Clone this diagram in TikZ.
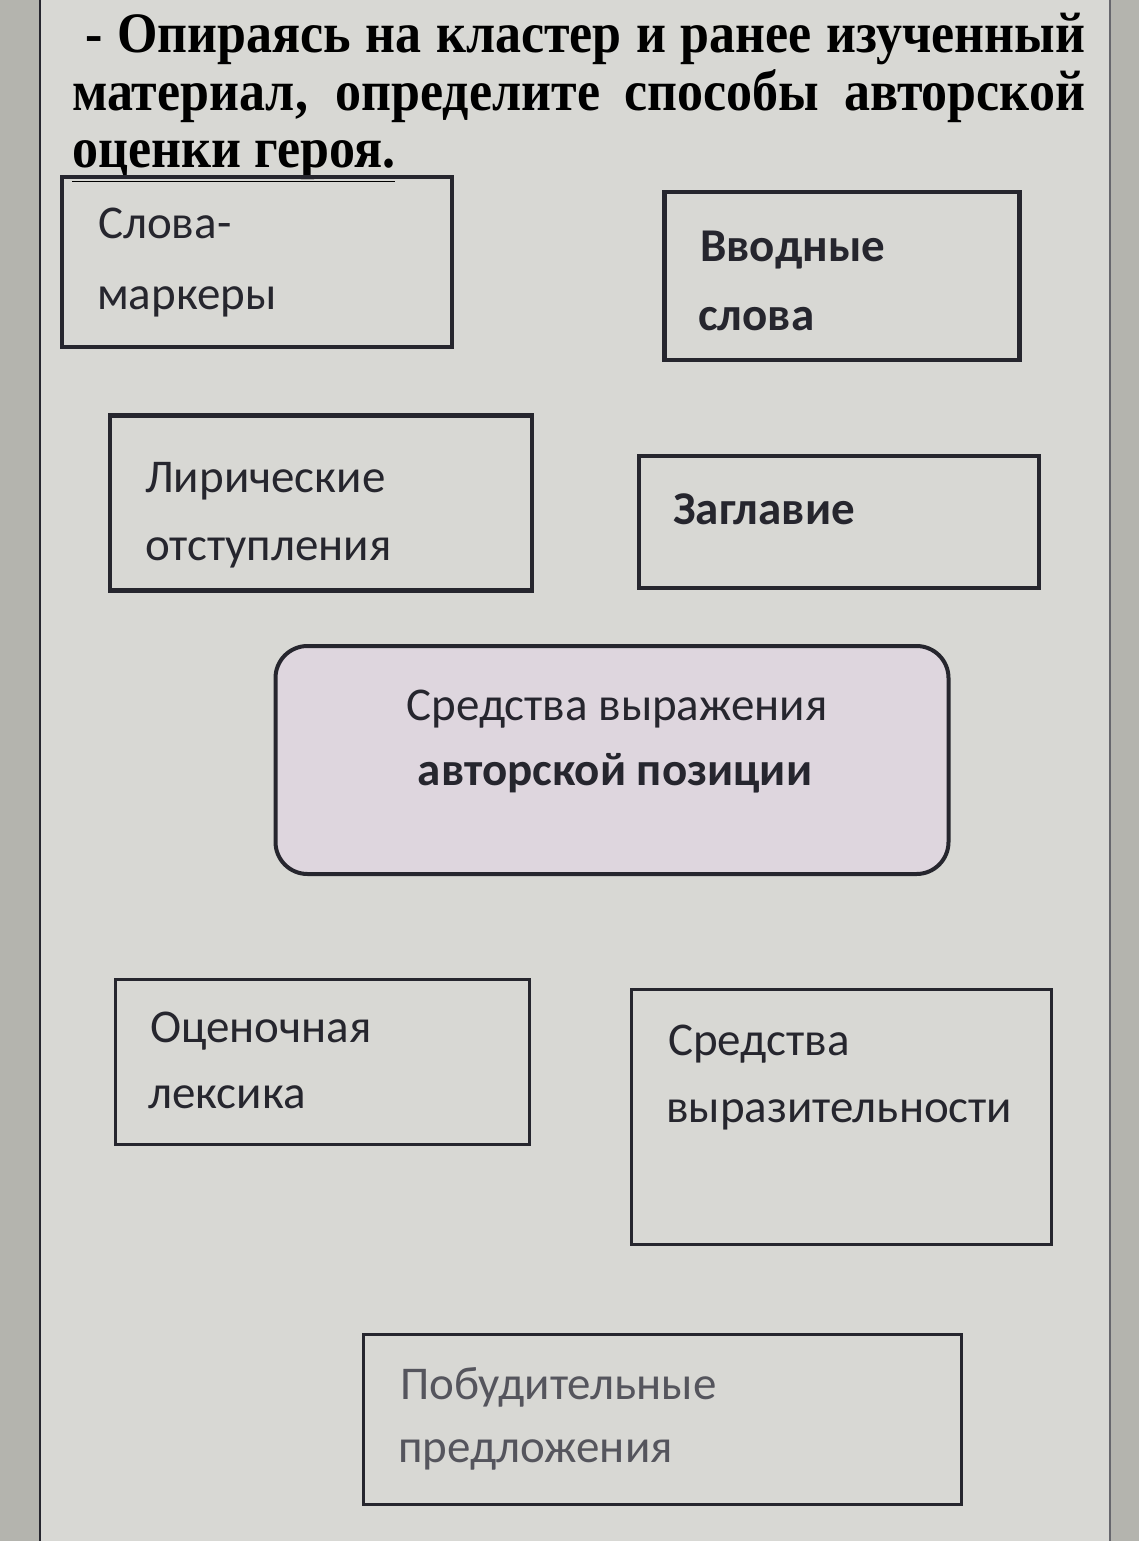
\documentclass[tikz,border=0pt]{standalone}
\usepackage{graphicx}
\usepackage{fontspec}
\setmainfont{Liberation Serif}
\newfontfamily\boxfont{Carlito}
\definecolor{pagebg}{HTML}{D8D8D4}
\definecolor{outerbg}{HTML}{B4B4AE}
\definecolor{ink}{HTML}{26262E}
\definecolor{centfill}{HTML}{DED6DE}
\definecolor{greytext}{HTML}{55555D}
\begin{document}
\begin{tikzpicture}[x=1pt,y=-1pt,
  box/.style={draw=ink, line width=4.5pt, fill=none, inner sep=0pt},
  thinbox/.style={draw=ink, line width=3pt, fill=none, inner sep=0pt},
  lbl/.style={anchor=mid west, inner sep=0pt, font=\boxfont\fontsize{47}{47}\selectfont, text=ink},
  blbl/.style={lbl, font=\boxfont\bfseries\fontsize{47}{47}\selectfont},
  clbl/.style={anchor=mid, inner sep=0pt, font=\boxfont\fontsize{47}{47}\selectfont, text=ink},
  ttl/.style={anchor=mid west, inner sep=0pt, font=\bfseries\fontsize{52}{52}\selectfont, text=black}
]
\useasboundingbox (0,0) rectangle (1139,1541);
\fill[outerbg] (0,0) rectangle (1139,1541);
\fill[pagebg] (40,0) rectangle (1110,1541);
\draw[ink, line width=2pt] (40,0) -- (40,1541);
\draw[ink!70, line width=2pt] (1110,0) -- (1110,1541);

% title
\node[ttl] (t1) at (85,50) {\scalebox{1}[1.1]{\makebox[1000pt][s]{- Опираясь на кластер и ранее изученный}}};
\node[ttl] (t2) at (72,108) {\scalebox{1}[1.1]{\makebox[1013pt][s]{материал, определите способы авторской}}};
\node[ttl] (t3) at (72,165) {\scalebox{1}[1.1]{\underline{оценки героя.}}};

% boxes
\node[box, minimum width=390pt, minimum height=170pt] (b1) at (257,262) {};
\node[lbl] (b1a) at (98,236) {Слова-};
\node[lbl] (b1b) at (97,307) {маркеры};

\node[box, minimum width=355pt, minimum height=168pt] (b2) at (842,276) {};
\node[blbl] (b2a) at (700,259) {Вводные};
\node[blbl] (b2b) at (698,328) {слова};

\node[box, minimum width=422pt, minimum height=175pt] (b3) at (321,503) {};
\node[lbl] (b3a) at (145,490) {Лирические};
\node[lbl] (b3b) at (145,558) {отступления};

\node[box, minimum width=400pt, minimum height=132pt] (b4) at (839,522) {};
\node[blbl] (b4a) at (673,522) {Заглавие};

\node[draw=ink, line width=4pt, fill=centfill, rounded corners=32pt, minimum width=673pt, minimum height=228pt, inner sep=0pt] (c) at (612,760) {};
\node[clbl] (ca) at (617,718) {Средства выражения};
\node[clbl, font=\boxfont\bfseries\fontsize{47}{47}\selectfont] (cb) at (615,783) {авторской позиции};

\node[thinbox, minimum width=414pt, minimum height=165pt] (b5) at (322,1062) {};
\node[lbl] (b5a) at (150,1040) {Оценочная};
\node[lbl] (b5b) at (148,1106) {лексика};

\node[thinbox, minimum width=420pt, minimum height=255pt] (b6) at (841,1117) {};
\node[lbl] (b6a) at (668,1053) {Средства};
\node[lbl] (b6b) at (666,1120) {выразительности};

\node[thinbox, minimum width=598pt, minimum height=170pt] (b7) at (662,1419) {};
\node[lbl, text=greytext] (b7a) at (400,1397) {Побудительные};
\node[lbl, text=greytext] (b7b) at (398,1460) {предложения};
\end{tikzpicture}
\end{document}
